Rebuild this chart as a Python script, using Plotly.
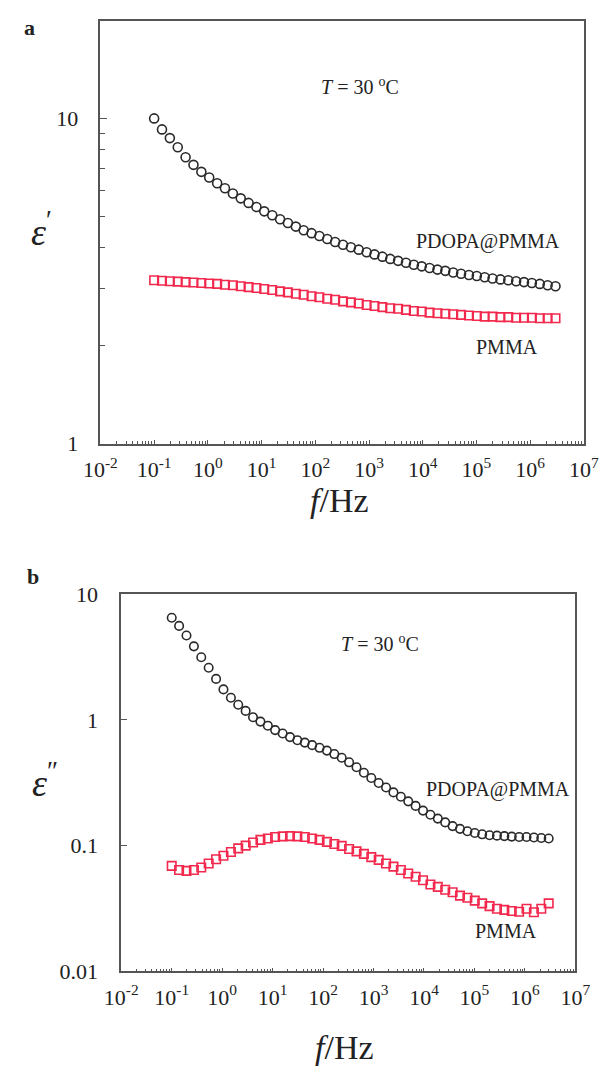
import plotly.graph_objects as go

W, H = 615, 1082

# ---------------- data ----------------
FREQ_HZ = [0.1, 0.140, 0.196, 0.275, 0.385, 0.540, 0.757, 1.06, 1.49, 2.08,
           2.92, 4.09, 5.73, 8.03, 11.2, 15.8, 22.1, 30.9, 43.4, 60.7,
           85.1, 119, 167, 234, 328, 460, 644, 903, 1265, 1772,
           2483, 3479, 4875, 6831, 9572, 13413, 18793, 26333, 36898, 51701,
           72444, 101508, 142233, 199298, 279254, 391291, 548277, 768245, 1076465, 1508349,
           2113489, 2961408]

# panel a: real permittivity
EPS1_PDOPA = [10.0, 9.25, 8.7, 8.15, 7.6, 7.2, 6.85, 6.58, 6.32, 6.1,
              5.88, 5.68, 5.5, 5.34, 5.18, 5.04, 4.9, 4.77, 4.65, 4.53,
              4.44, 4.35, 4.26, 4.17, 4.09, 4.02, 3.95, 3.88, 3.82, 3.76,
              3.70, 3.65, 3.60, 3.55, 3.51, 3.47, 3.43, 3.40, 3.36, 3.33,
              3.30, 3.28, 3.25, 3.22, 3.20, 3.18, 3.16, 3.14, 3.12, 3.10,
              3.07, 3.05]
EPS1_PMMA = [3.18, 3.17, 3.16, 3.15, 3.14, 3.13, 3.12, 3.11, 3.10, 3.08,
             3.07, 3.05, 3.03, 3.01, 2.99, 2.97, 2.94, 2.92, 2.89, 2.87,
             2.84, 2.82, 2.79, 2.77, 2.74, 2.72, 2.70, 2.67, 2.65, 2.63,
             2.61, 2.60, 2.58, 2.56, 2.55, 2.53, 2.52, 2.51, 2.50, 2.49,
             2.48, 2.47, 2.46, 2.46, 2.45, 2.45, 2.44, 2.44, 2.44, 2.43,
             2.43, 2.43]

# panel b: imaginary permittivity
EPS2_PDOPA = [6.5, 5.6, 4.7, 3.85, 3.15, 2.6, 2.12, 1.75, 1.5, 1.32,
              1.18, 1.05, 0.97, 0.90, 0.83, 0.78, 0.73, 0.69, 0.66, 0.63,
              0.60, 0.57, 0.535, 0.50, 0.46, 0.42, 0.38, 0.345, 0.315, 0.29,
              0.265, 0.245, 0.225, 0.207, 0.19, 0.176, 0.164, 0.153, 0.143, 0.136,
              0.130, 0.126, 0.123, 0.121, 0.120, 0.119, 0.118, 0.117, 0.117, 0.116,
              0.115, 0.114]
EPS2_PMMA = [0.069, 0.064, 0.063, 0.064, 0.067, 0.072, 0.078, 0.083, 0.089, 0.095,
             0.100, 0.106, 0.111, 0.114, 0.117, 0.1185, 0.119, 0.1185, 0.117, 0.114,
             0.111, 0.107, 0.103, 0.0995, 0.094, 0.090, 0.086, 0.081, 0.077, 0.072,
             0.068, 0.064, 0.060, 0.0565, 0.053, 0.049, 0.047, 0.0446, 0.0426, 0.040,
             0.0385, 0.0365, 0.0347, 0.033, 0.0315, 0.0308, 0.0302, 0.0298, 0.0315, 0.0295,
             0.0315, 0.0347]

X_TICKVALS = [1e-2, 1e-1, 1e0, 1e1, 1e2, 1e3, 1e4, 1e5, 1e6, 1e7]
X_TICKTEXT = ["10<sup>-2</sup>", "10<sup>-1</sup>", "10<sup>0</sup>", "10<sup>1</sup>",
              "10<sup>2</sup>", "10<sup>3</sup>", "10<sup>4</sup>", "10<sup>5</sup>",
              "10<sup>6</sup>", "10<sup>7</sup>"]
YA_TICKVALS = [1, 10]
YA_TICKTEXT = ["1", "10"]
YB_TICKVALS = [0.01, 0.1, 1, 10]
YB_TICKTEXT = ["0.01", "0.1", "1", "10"]

# ---------------- style ----------------
FONT = "Liberation Serif"
AX = "#555555"
BLACK = "#2a2a2a"
RED = "#f2284c"

minor_x = [m * 10 ** e for e in range(-2, 7) for m in range(2, 10)]
minor_ya = [m for m in range(2, 10)] + [20]


def px(x):
    return x / W


def py(y):
    return 1 - y / H


fig = go.Figure()

fig.add_trace(go.Scatter(x=FREQ_HZ, y=EPS1_PDOPA, mode="markers", xaxis="x", yaxis="y",
                         marker=dict(symbol="circle-open", size=9, color=BLACK,
                                     line=dict(width=1.6, color=BLACK)),
                         showlegend=False))
fig.add_trace(go.Scatter(x=FREQ_HZ, y=EPS1_PMMA, mode="markers", xaxis="x", yaxis="y",
                         marker=dict(symbol="square-open", size=8.5, color=RED,
                                     line=dict(width=1.6, color=RED)),
                         showlegend=False))
fig.add_trace(go.Scatter(x=FREQ_HZ, y=EPS2_PDOPA, mode="markers", xaxis="x2", yaxis="y2",
                         marker=dict(symbol="circle-open", size=8.5, color=BLACK,
                                     line=dict(width=1.6, color=BLACK)),
                         showlegend=False))
fig.add_trace(go.Scatter(x=FREQ_HZ, y=EPS2_PMMA, mode="markers", xaxis="x2", yaxis="y2",
                         marker=dict(symbol="square-open", size=8.5, color=RED,
                                     line=dict(width=1.6, color=RED)),
                         showlegend=False))

common = dict(type="log", showline=True, linecolor=AX, linewidth=1.6, mirror=True,
              ticks="inside", tickcolor=AX, tickwidth=1.2, showgrid=False, zeroline=False,
              tickfont=dict(family=FONT, size=22, color="#222"), tickmode="array")

fig.update_layout(
    width=W, height=H, margin=dict(l=0, r=0, t=0, b=0),
    paper_bgcolor="white", plot_bgcolor="white",
    xaxis=dict(common, domain=[px(88), px(598)], range=[-2, 7], anchor="y",
               tickvals=X_TICKVALS, ticktext=X_TICKTEXT, ticklen=4, ticklabelstandoff=5,
               minor=dict(tickvals=minor_x, ticks="inside", ticklen=2.5, tickcolor=AX, tickwidth=1)),
    yaxis=dict(common, domain=[py(442), py(9)], range=[0, 1.3], anchor="x",
               tickvals=YA_TICKVALS, ticktext=YA_TICKTEXT, ticklen=7, ticklabelstandoff=16,
               minor=dict(tickvals=minor_ya, ticks="inside", ticklen=4.5, tickcolor=AX, tickwidth=1.2)),
    xaxis2=dict(common, domain=[px(110), px(589)], range=[-2, 7], anchor="y2",
                tickvals=X_TICKVALS, ticktext=X_TICKTEXT, ticklen=4, ticklabelstandoff=5,
                minor=dict(tickvals=minor_x, ticks="inside", ticklen=2.5, tickcolor=AX, tickwidth=1)),
    yaxis2=dict(common, domain=[py(982), py(596)], range=[-2, 1], anchor="x2",
                tickvals=YB_TICKVALS, ticktext=YB_TICKTEXT, ticklen=6, ticklabelstandoff=17),
)

ann = [
    dict(x=px(13), y=py(16), text="<b>a</b>", font=dict(size=22)),
    dict(x=px(17), y=py(578), text="<b>b</b>", font=dict(size=22)),
    dict(x=px(362), y=py(76), text="<i>T</i> = 30 <sup>o</sup>C", font=dict(size=20)),
    dict(x=px(383), y=py(646), text="<i>T</i> = 30 <sup>o</sup>C", font=dict(size=20)),
    dict(x=px(497), y=py(235), text="PDOPA@PMMA", font=dict(size=20)),
    dict(x=px(517), y=py(343), text="PMMA", font=dict(size=20)),
    dict(x=px(507), y=py(796), text="PDOPA@PMMA", font=dict(size=20)),
    dict(x=px(516), y=py(941), text="PMMA", font=dict(size=20)),
    dict(x=px(340), y=py(500), text="<i>f</i>/Hz", font=dict(size=34)),
    dict(x=px(345), y=py(1060), text="<i>f</i>/Hz", font=dict(size=34)),
    dict(x=px(26), y=py(222), text="<i>ε</i><sup>′</sup>", font=dict(size=38)),
    dict(x=px(30), y=py(786), text="<i>ε</i><sup>″</sup>", font=dict(size=38)),
]
for a in ann:
    a.update(xref="paper", yref="paper", showarrow=False, xanchor="center", yanchor="middle")
    a["font"].update(family=FONT, color="#222")
fig.update_layout(annotations=ann)

fig.write_html("out.html")
